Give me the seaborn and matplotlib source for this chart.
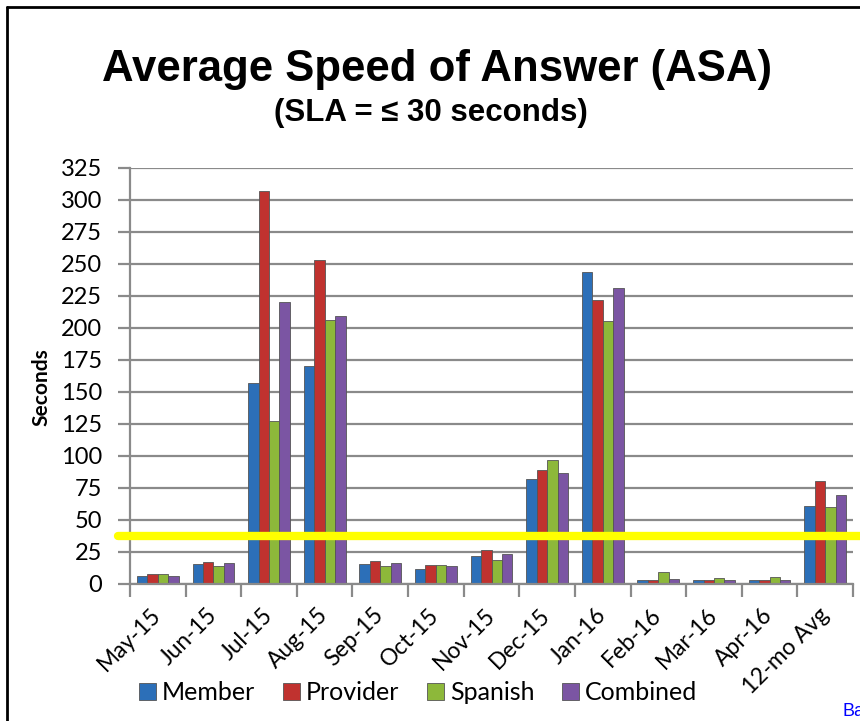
import matplotlib
matplotlib.use("Agg")
import matplotlib.pyplot as plt
import seaborn as sns
import pandas as pd
import numpy as np
from matplotlib.lines import Line2D
from matplotlib.ticker import FixedLocator

categories = ["May-15", "Jun-15", "Jul-15", "Aug-15", "Sep-15", "Oct-15", "Nov-15",
              "Dec-15", "Jan-16", "Feb-16", "Mar-16", "Apr-16", "12-mo Avg"]
member   = [6.5, 15.5, 157, 170, 16, 11.5, 22, 82, 244, 3, 3, 3, 61]
provider = [8, 17, 307, 253, 18, 15, 26.5, 89, 222, 3, 3, 3, 80.5]
spanish  = [8, 14, 127.5, 206, 14, 15, 18.5, 97, 205.5, 9, 5, 5.5, 60]
combined = [6.5, 16.5, 220, 209, 16.5, 14, 23.5, 86.5, 231, 4, 3, 3, 69.5]
series_names = ["Member", "Provider", "Spanish", "Combined"]
sla_line = 37.5
y_ticks = list(range(0, 326, 25))

colors = ["#2C6FB8", "#C0322F", "#8DB83A", "#7B55A3"]

df = pd.DataFrame({
    "Month": categories * 4,
    "Series": sum([[s] * len(categories) for s in series_names], []),
    "Seconds": member + provider + spanish + combined,
})

sns.set_theme(style="white")
plt.rcParams["font.family"] = ["Lato", "DejaVu Sans"]
plt.rcParams["text.color"] = "black"
plt.rcParams["axes.labelcolor"] = "black"
plt.rcParams["xtick.color"] = "black"
plt.rcParams["ytick.color"] = "black"

fig = plt.figure(figsize=(8.6, 7.21), dpi=100)
ax = fig.add_axes([130/860, 1-584/721, (853-130)/860, (584-168)/721])

sns.barplot(data=df, x="Month", y="Seconds", hue="Series", order=categories,
            hue_order=series_names, palette=colors, width=0.75, ax=ax,
            edgecolor="#555555", linewidth=0.6, legend=True, saturation=1)

ax.set_ylim(0, 325)
ax.set_xlim(-0.5, len(categories) - 0.5)
ax.set_yticks(y_ticks)
ax.yaxis.grid(True, color="#8a8a8a", linewidth=1.6)
ax.set_axisbelow(True)
for s in ["top", "right"]:
    ax.spines[s].set_visible(False)
for s in ["left", "bottom"]:
    ax.spines[s].set_color("#8a8a8a")
    ax.spines[s].set_linewidth(1.6)
ax.tick_params(axis="y", direction="out", length=9, width=1.6, color="#8a8a8a",
               labelcolor="black", labelsize=17, pad=11, left=True)
ax.xaxis.set_minor_locator(FixedLocator(np.arange(-0.5, len(categories), 1.0)))
ax.tick_params(axis="x", which="minor", direction="out", length=9, width=1.6,
               color="#8a8a8a", bottom=True)
ax.tick_params(axis="x", which="major", length=0, labelsize=16.5, pad=20,
               labelcolor="black")
for lab in ax.get_xticklabels():
    lab.set_rotation(45)
    lab.set_ha("right")
    lab.set_va("center")
    lab.set_rotation_mode("anchor")
ax.set_xlabel("")
ax.set_ylabel("Seconds", fontsize=15, fontweight="bold")
ax.yaxis.set_label_coords((51 - 130) / 723, (584 - 387) / 416)

ax.axhline(sla_line, xmin=-0.016, xmax=1.02, color="#FFFF00", linewidth=6,
           clip_on=False, zorder=5)

leg = ax.legend(loc="center", bbox_to_anchor=(418/860, 1-693/721),
                bbox_transform=fig.transFigure, ncol=4, frameon=False,
                fontsize=18, handlelength=0.68, handleheight=0.68,
                handletextpad=0.25, columnspacing=1.1, borderpad=0)

fig.text(0.508, 1-70/721, "Average Speed of Answer (ASA)", ha="center", va="center",
         fontsize=31.5, fontweight="bold", color="black",
         family=["Liberation Sans", "DejaVu Sans"])
fig.text(0.501, 1-113/721, "(SLA = \u2264 30 seconds)", ha="center", va="center",
         fontsize=22.5, fontweight="bold", color="black",
         family=["Liberation Sans", "DejaVu Sans"])
fig.text(843/860, 1-711/721, "Back", ha="left", va="center", fontsize=13,
         color="#0000FF", family=["Liberation Sans", "DejaVu Sans"])

fig.add_artist(Line2D([7/860, 7/860], [0, 1-7/721], transform=fig.transFigure,
                      color="black", linewidth=2))
fig.add_artist(Line2D([7/860, 1], [1-7/721, 1-7/721], transform=fig.transFigure,
                      color="black", linewidth=2))

fig.savefig("out.png", dpi=100)
